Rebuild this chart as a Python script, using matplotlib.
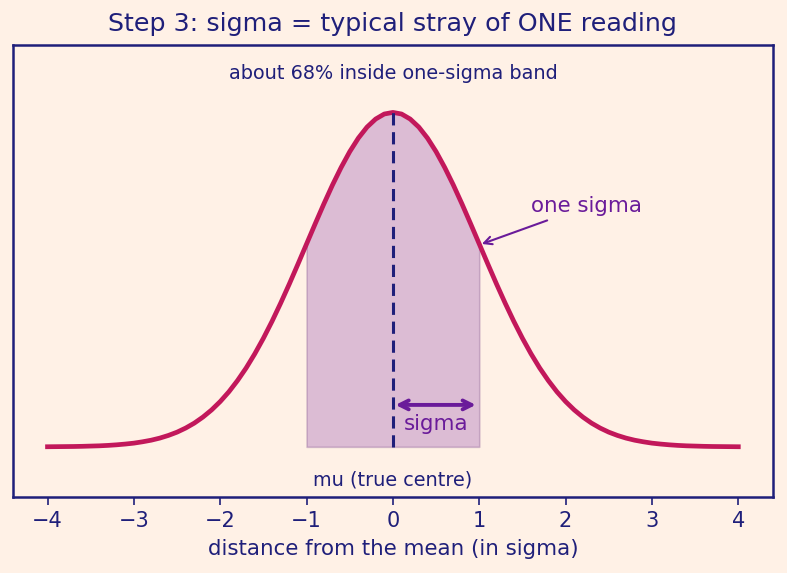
import matplotlib
matplotlib.use("Agg")
import matplotlib.pyplot as plt
import numpy as np

# curve samples (standard bell shape, right half, mirrored)
half_x = [0.0, 0.1, 0.2, 0.3, 0.4, 0.5, 0.6, 0.7, 0.8, 0.9, 1.0,
          1.1, 1.2, 1.3, 1.4, 1.5, 1.6, 1.7, 1.8, 1.9, 2.0,
          2.1, 2.2, 2.3, 2.4, 2.5, 2.6, 2.7, 2.8, 2.9, 3.0,
          3.1, 3.2, 3.3, 3.4, 3.5, 3.6, 3.7, 3.8, 3.9, 4.0]
half_y = [0.3989, 0.3970, 0.3910, 0.3814, 0.3683, 0.3521, 0.3332, 0.3123,
          0.2897, 0.2661, 0.2420, 0.2179, 0.1942, 0.1714, 0.1497, 0.1295,
          0.1109, 0.0940, 0.0790, 0.0656, 0.0540, 0.0440, 0.0355, 0.0283,
          0.0224, 0.0175, 0.0136, 0.0104, 0.0079, 0.0060, 0.0044, 0.0033,
          0.0024, 0.0017, 0.0012, 0.0009, 0.0006, 0.0004, 0.0003, 0.0002,
          0.0001]
curve_x = [-v for v in half_x[:0:-1]] + half_x
curve_y = half_y[:0:-1] + half_y
band = (-1.0, 1.0)
ticks = [-4, -3, -2, -1, 0, 1, 2, 3, 4]

BG = "#FFF1E6"
NAVY = "#1F1F7A"
CRIMSON = "#C2185B"
PURPLE = "#6A1B9A"

fig, ax = plt.subplots(figsize=(7.87, 5.73), dpi=100)
fig.patch.set_facecolor(BG)
ax.set_facecolor(BG)
fig.subplots_adjust(left=0.0165, right=0.982, top=0.921, bottom=0.133)

cx = np.array(curve_x)
cy = np.array(curve_y)
mask = (cx >= band[0] - 1e-9) & (cx <= band[1] + 1e-9)
ax.fill_between(cx[mask], 0, cy[mask], facecolor="#8E44AD", alpha=0.3,
                edgecolor="#7A4A8A", linewidth=1.2)
ax.plot(cx, cy, color=CRIMSON, linewidth=3.4, zorder=3, solid_joinstyle="round")
ax.plot([0, 0], [0, max(curve_y)], color=NAVY, linestyle="--", linewidth=2.2,
        dashes=(4, 2.2), zorder=4)

ax.annotate("", xy=(0.96, 0.05), xytext=(0.03, 0.05),
            arrowprops=dict(arrowstyle="<->", color=PURPLE, lw=2.8,
                            mutation_scale=16, shrinkA=0, shrinkB=0), zorder=5)
ax.text(0.5, 0.027, "sigma", color=PURPLE, fontsize=15.4, ha="center", va="center")

ax.annotate("one sigma", xy=(1.03, 0.2420), xytext=(1.6, 0.287),
            color=PURPLE, fontsize=15.4, va="center", ha="left",
            arrowprops=dict(arrowstyle="->", color=PURPLE, lw=1.5,
                            shrinkA=3, shrinkB=0, mutation_scale=14))

ax.text(0, 0.445, "about 68% inside one-sigma band", color=NAVY, fontsize=13.9,
        ha="center", va="center")
ax.text(0, -0.039, "mu (true centre)", color=NAVY, fontsize=13.9,
        ha="center", va="center")

ax.set_xlim(-4.4, 4.4)
ax.set_ylim(-0.0596, 0.479)
ax.set_xticks(ticks)
ax.set_yticks([])
ax.tick_params(axis="x", colors=NAVY, labelsize=15, length=6, width=1.2, pad=4)
for s in ax.spines.values():
    s.set_color(NAVY)
    s.set_linewidth(1.8)
ax.set_xlabel("distance from the mean (in sigma)", color=NAVY, fontsize=15.4, labelpad=6)
ax.set_title("Step 3: sigma = typical stray of ONE reading", color=NAVY, fontsize=18.3, pad=10)

fig.savefig("out.png", dpi=100, facecolor=BG)
